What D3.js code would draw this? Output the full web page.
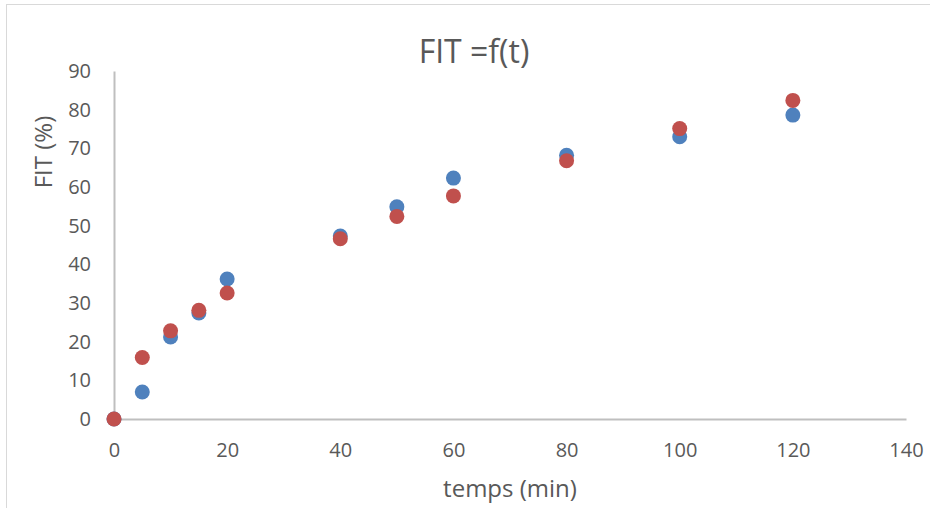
<!DOCTYPE html>
<html><head><meta charset="utf-8">
<script src="https://cdn.jsdelivr.net/npm/d3@7"></script>
<style>body{margin:0;background:#fff}svg{display:block}</style>
</head><body><svg id="c" width="930" height="508"></svg>
<script>
const times = [0, 5, 10, 15, 20, 40, 50, 60, 80, 100, 120];
const seriesBlue = [0, 7.0, 21.2, 27.4, 36.2, 47.3, 54.9, 62.3, 68.2, 73.0, 78.6];
const seriesRed = [0, 15.9, 22.8, 28.1, 32.6, 46.6, 52.4, 57.7, 66.8, 75.1, 82.4];
const xTicks = [0, 20, 40, 60, 80, 100, 120, 140];
const yTicks = [0, 10, 20, 30, 40, 50, 60, 70, 80, 90];
const title = "FIT =f(t)";
const xTitle = "temps (min)";
const yTitle = "FIT (%)";

const svg = d3.select("#c");
const font = "'Open Sans', sans-serif";
svg.append("rect").attr("x", 6.5).attr("y", 4.5).attr("width", 940).attr("height", 520)
  .attr("fill", "#fff").attr("stroke", "#d9d9d9").attr("stroke-width", 1);

const x = d3.scaleLinear().domain([0, 140]).range([114, 906]);
const y = d3.scaleLinear().domain([0, 90]).range([419, 71]);

const xAxis = svg.append("g").attr("transform", "translate(0,419)")
  .call(d3.axisBottom(x).tickValues(xTicks).tickSize(0).tickPadding(24));
const yAxis = svg.append("g").attr("transform", "translate(114,0)")
  .call(d3.axisLeft(y).tickValues(yTicks).tickSize(0).tickPadding(23));
[xAxis, yAxis].forEach(a => {
  a.select(".domain").attr("stroke", "#bfbfbf").attr("stroke-width", 2);
  a.selectAll("text").attr("fill", "#595959").style("font-family", font).style("font-size", "20px");
});

const pts = (vals, color) => svg.append("g").selectAll("circle")
  .data(times.map((t, i) => [t, vals[i]])).join("circle")
  .attr("cx", d => x(d[0])).attr("cy", d => y(d[1])).attr("r", 7.5).attr("fill", color);
pts(seriesBlue, "#4f81bd");
pts(seriesRed, "#c0504d");

svg.append("text").attr("x", 474).attr("y", 63).attr("text-anchor", "middle")
  .attr("fill", "#595959").style("font-family", font).style("font-size", "32px").text(title);
svg.append("text").attr("x", 510).attr("y", 497).attr("text-anchor", "middle")
  .attr("fill", "#595959").style("font-family", font).style("font-size", "24px").text(xTitle);
svg.append("text").attr("transform", "translate(52,152) rotate(-90)").attr("text-anchor", "middle")
  .attr("fill", "#595959").style("font-family", font).style("font-size", "24px").text(yTitle);
</script></body></html>
